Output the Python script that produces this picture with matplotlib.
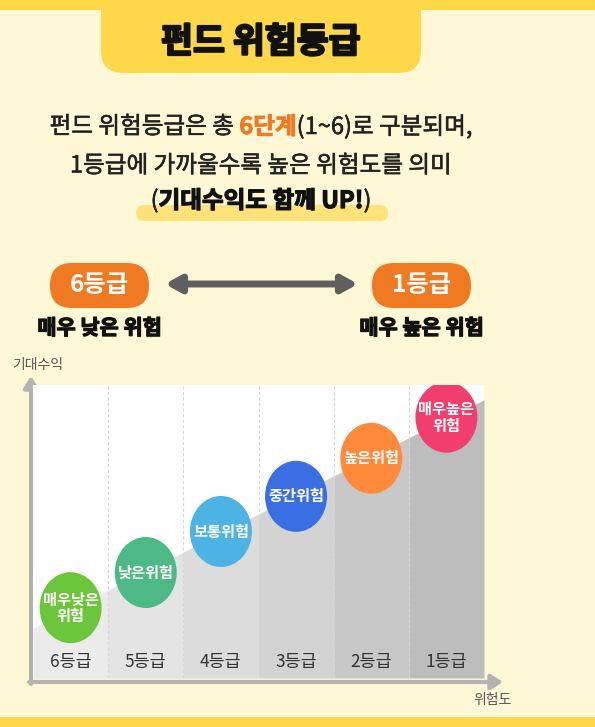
import matplotlib
matplotlib.use("Agg")
import matplotlib.pyplot as plt
import matplotlib.patheffects as pe
from matplotlib.patches import FancyBboxPatch, Ellipse, Rectangle

plt.rcParams['font.family'] = ['Noto Sans CJK KR', 'DejaVu Sans']

# ---------------------------------------------------------
# Data
# ---------------------------------------------------------
grades = ['6등급', '5등급', '4등급', '3등급', '2등급', '1등급']
risk_labels = ['매우낮은\n위험', '낮은위험', '보통위험', '중간위험', '높은위험', '매우높은\n위험']
risk_colors = ['#6cc63b', '#4dba86', '#4db3e4', '#3a6ee2', '#ff8a3b', '#f03f6c']
expected_return = [24, 36, 50, 62, 75, 89]      # circle height (0-100 scale)
trend_ends = [17, 95]                            # grey wedge, left/right edge
column_shades = ['#ebebeb', '#e4e4e4', '#dcdcdc', '#d3d3d3', '#c8c8c8', '#bdbdbd']

BG = '#fff8d6'
YELLOW = '#ffd84a'
ORANGE = '#f07a22'

W, H = 595, 727
fig = plt.figure(figsize=(W / 100, H / 100), dpi=100)
fig.patch.set_facecolor(BG)

# background / decoration axes in pixel coords (y pointing down)
bg = fig.add_axes([0, 0, 1, 1], zorder=0)
bg.set_xlim(0, W)
bg.set_ylim(H, 0)
bg.axis('off')


def heavy(c, w=1.2):
    return [pe.Stroke(linewidth=w, foreground=c), pe.Normal()]


# top and bottom yellow bands
bg.add_patch(Rectangle((0, 0), W, 10, color=YELLOW, lw=0))
bg.add_patch(Rectangle((0, 717), W, 10, color=YELLOW, lw=0))
# title box with rounded bottom corners
bg.add_patch(FancyBboxPatch((101, -30), 320, 103, boxstyle='round,pad=0,rounding_size=22',
                            color=YELLOW, lw=0))
bg.text(261, 42, '펀드 위험등급', ha='center', va='center', fontsize=25,
        fontweight='black', color='#111111', path_effects=heavy('#111111', 1.6))

# highlight bar under third line
bg.add_patch(FancyBboxPatch((136, 205), 252, 16, boxstyle='round,pad=0,rounding_size=8',
                            color='#ffe27a', lw=0))

fig.canvas.draw()
renderer = fig.canvas.get_renderer()


def rich_line(parts, cx, y, size):
    # parts: list of (text, color, weight, stroke); centred at cx
    texts = []
    for s, c, w, st in parts:
        t = bg.text(0, y, s, ha='left', va='center', fontsize=size, color=c, fontweight=w)
        if st:
            t.set_path_effects(heavy(c, st))
        texts.append(t)
    widths = [t.get_window_extent(renderer).width for t in texts]
    x = cx - sum(widths) / 2
    for t, wd in zip(texts, widths):
        t.set_x(x)
        x += wd


rich_line([('펀드 위험등급은 총 ', '#222222', 'medium', 0.4),
           ('6단계', ORANGE, 'bold', 0.6),
           ('(1~6)로 구분되며,', '#222222', 'medium', 0.4)], 261, 127, 17)
rich_line([('1등급에 가까울수록 높은 위험도를 의미', '#222222', 'medium', 0.4)], 261, 166, 17)
rich_line([('(', '#222222', 'medium', 0.4),
           ('기대수익도 함께 UP!', '#111111', 'bold', 0.9),
           (')', '#222222', 'medium', 0.4)], 261, 201, 17)

# grade pills
for x0, lab, sub in [(50, '6등급', '매우 낮은 위험'), (372, '1등급', '매우 높은 위험')]:
    bg.add_patch(FancyBboxPatch((x0, 263), 99, 45, boxstyle='round,pad=0,rounding_size=22',
                                color=ORANGE, lw=0))
    bg.text(x0 + 49.5, 285, lab, ha='center', va='center', fontsize=17.5,
            fontweight='bold', color='white')
    bg.text(x0 + 49.5, 328, sub, ha='center', va='center', fontsize=15,
            fontweight='bold', color='#111111', path_effects=heavy('#111111', 0.9))

# double arrow between pills
bg.annotate('', xy=(358, 284), xytext=(165, 284),
            arrowprops=dict(arrowstyle='<|-|>,head_length=0.9,head_width=0.5',
                            color='#5f5f5f', lw=5, shrinkA=0, shrinkB=0))

# axis labels
bg.text(38, 365, '기대수익', ha='center', va='center', fontsize=10, color='#555555')
bg.text(492, 700, '위험도', ha='center', va='center', fontsize=10, color='#555555')

# axis arrows
axc = '#b3b3b3'
bg.annotate('', xy=(31, 376), xytext=(31, 684),
            arrowprops=dict(arrowstyle='-|>,head_length=0.7,head_width=0.45',
                            color=axc, lw=3, shrinkA=0, shrinkB=0))
bg.annotate('', xy=(503, 682), xytext=(29, 682),
            arrowprops=dict(arrowstyle='-|>,head_length=0.7,head_width=0.45',
                            color=axc, lw=3, shrinkA=0, shrinkB=0))

# ---------------------------------------------------------
# Chart area
# ---------------------------------------------------------
ax = fig.add_axes([33 / W, (H - 678) / H, 451 / W, 293 / H], zorder=1)
ax.set_xlim(0, 6)
ax.set_ylim(0, 100)
ax.set_facecolor('white')
for sp in ax.spines.values():
    sp.set_visible(False)
ax.set_xticks([])
ax.set_yticks([])

n = len(grades)
slope = (trend_ends[1] - trend_ends[0]) / n
for i in range(n):
    xs = [i, i + 1]
    ys = [trend_ends[0] + slope * i, trend_ends[0] + slope * (i + 1)]
    ax.fill_between(xs, 0, ys, color=column_shades[i], lw=0, zorder=1)

for i in range(1, n):
    ax.axvline(i, color='#d6d6d6', lw=0.8, ls=(0, (3, 2)), zorder=2)

px_x = 451 / 6        # pixels per column
px_y = 293 / 100      # pixels per y unit
for i in range(n):
    cx = i + 0.5
    ax.add_patch(Ellipse((cx, expected_return[i]), 62 / px_x, 71 / px_y,
                         color=risk_colors[i], lw=0, zorder=3))
    ax.text(cx, expected_return[i], risk_labels[i], ha='center', va='center',
            fontsize=11, fontweight='bold', color='white', linespacing=1.05, zorder=4)
    ax.text(cx, 5.3, grades[i], ha='center', va='center', fontsize=12.5,
            color='#333333', zorder=4)

fig.savefig('out.png', dpi=100, facecolor=BG)
